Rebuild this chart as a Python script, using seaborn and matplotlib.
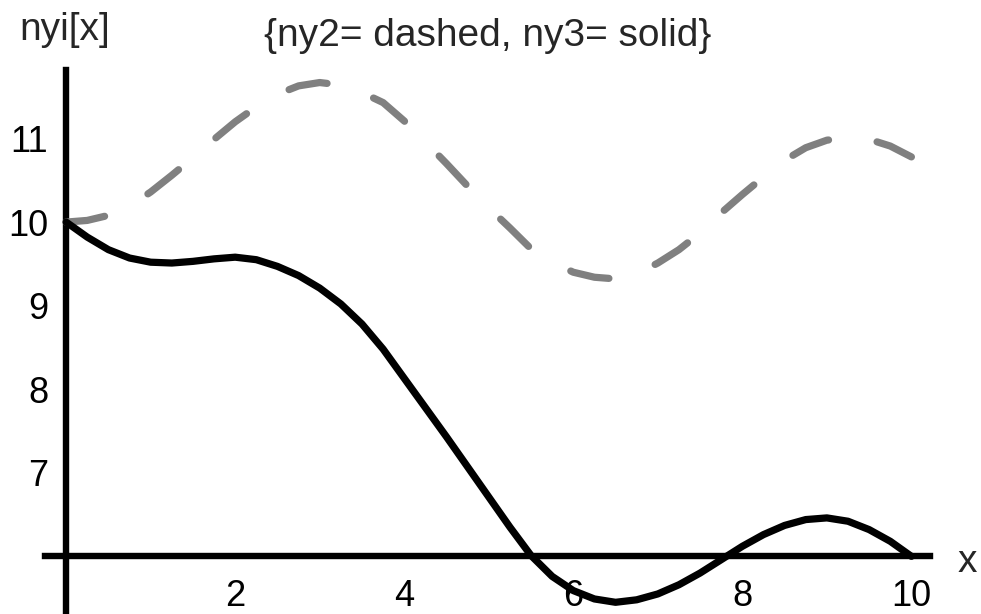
import numpy as np
import pandas as pd
import matplotlib
matplotlib.use("Agg")
import matplotlib.pyplot as plt
import seaborn as sns

# sample positions along x
x_vals = [0.0, 0.25, 0.5, 0.75, 1.0, 1.25, 1.5, 1.75, 2.0, 2.25, 2.5, 2.75,
          3.0, 3.25, 3.5, 3.75, 4.0, 4.25, 4.5, 4.75, 5.0, 5.25, 5.5, 5.75,
          6.0, 6.25, 6.5, 6.75, 7.0, 7.25, 7.5, 7.75, 8.0, 8.25, 8.5, 8.75,
          9.0, 9.25, 9.5, 9.75, 10.0]

# ny2 (dashed)
ny2 = [10.00, 10.02, 10.08, 10.19, 10.36, 10.56, 10.77, 10.99, 11.20, 11.38,
       11.53, 11.63, 11.67, 11.64, 11.55, 11.43, 11.21, 10.96, 10.70, 10.43,
       10.17, 9.93, 9.68, 9.52, 9.40, 9.34, 9.32, 9.38, 9.51, 9.67,
       9.87, 10.11, 10.33, 10.54, 10.74, 10.89, 10.98, 11.01, 10.99, 10.91,
       10.78]

# ny3 (solid)
ny3 = [10.00, 9.82, 9.67, 9.57, 9.52, 9.51, 9.53, 9.56, 9.58, 9.55,
       9.47, 9.36, 9.21, 9.02, 8.78, 8.48, 8.13, 7.78, 7.43, 7.07,
       6.71, 6.35, 6.01, 5.76, 5.59, 5.49, 5.45, 5.48, 5.55, 5.66,
       5.80, 5.96, 6.12, 6.26, 6.37, 6.44, 6.46, 6.42, 6.32, 6.18,
       6.00]

x_ticks = [2, 4, 6, 8, 10]
y_ticks = [7, 8, 9, 10, 11]

title_text = "{ny2= dashed, ny3= solid}"
y_label = "nyi[x]"
x_label = "x"

sns.set_style("white")
plt.rcParams["font.family"] = ["Liberation Sans", "DejaVu Sans"]

W, H = 981, 614
fig = plt.figure(figsize=(W / 100, H / 100), dpi=100)
ax = fig.add_axes([45 / W, 0.0, (930 - 45) / W, (614 - 70) / H])
ax.set_facecolor("white")

df = pd.DataFrame({"x": x_vals, "ny2": ny2, "ny3": ny3})

sns.lineplot(data=df, x="x", y="ny2", ax=ax, color="#808080", lw=5.2,
             linestyle=(0, (5.4, 6.8)), dash_capstyle="round",
             dash_joinstyle="round", solid_capstyle="round", zorder=3)
sns.lineplot(data=df, x="x", y="ny3", ax=ax, color="black", lw=5.2,
             solid_capstyle="round", solid_joinstyle="round", zorder=4)

ax.set_xlim(-0.25, 10.22)
ax.set_ylim(5.31, 11.82)

# axes crossing at (0, 6)
for side in ("top", "right"):
    ax.spines[side].set_visible(False)
ax.spines["left"].set_position(("data", 0))
ax.spines["bottom"].set_position(("data", 6))
for side in ("left", "bottom"):
    ax.spines[side].set_linewidth(4.6)
    ax.spines[side].set_color("black")
    ax.spines[side].set_zorder(2)

ax.set_xticks(x_ticks)
ax.set_yticks(y_ticks)
ax.set_xticklabels([str(t) for t in x_ticks])
ax.set_yticklabels([str(t) for t in y_ticks])
ax.tick_params(axis="x", direction="in", length=6, width=0.8, pad=16.0,
               labelsize=26, colors="black")
ax.tick_params(axis="y", direction="in", length=6, width=0.8, pad=13.0,
               labelsize=26, colors="black")
ax.set_xlabel("")
ax.set_ylabel("")

fig.text(65 / W, 1 - 40 / H, y_label, ha="center", va="baseline", fontsize=28)
fig.text(488 / W, 1 - 46 / H, title_text, ha="center", va="baseline", fontsize=28)
fig.text(967 / W, 1 - 562 / H, x_label, ha="center", va="center", fontsize=28)

fig.savefig("out.png", dpi=100, facecolor="white")
